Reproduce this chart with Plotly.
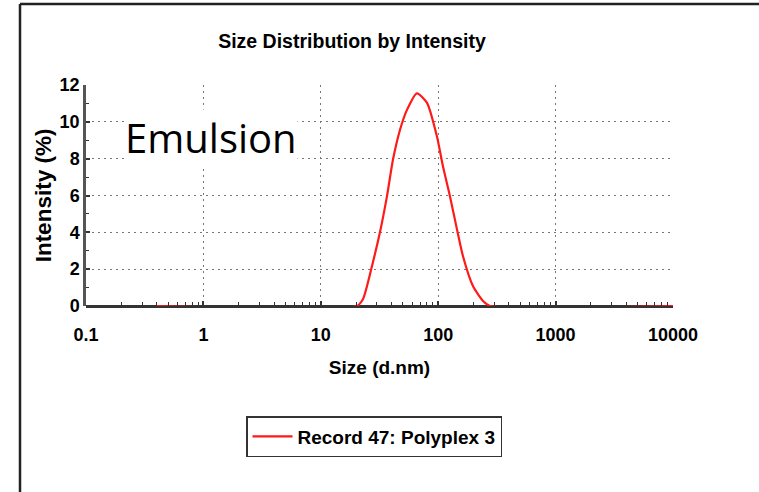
import plotly.graph_objects as go

# ---- data ----
sizes = [0.4, 20.3, 22.9, 27.8, 31.9, 36.6, 41.2, 47.3, 54.2, 65.9, 80.3,
         97.7, 109.9, 126, 144.5, 162.6, 197.7, 241, 276, 10000]
intensity = [0, 0, 0.38, 2.38, 4.0, 5.95, 7.95, 9.57, 10.65, 11.55, 11.03,
             9.19, 7.57, 5.95, 4.16, 2.7, 1.08, 0.27, 0, 0]
x_tickvals = [0.1, 1, 10, 100, 1000, 10000]
x_ticktext = ["0.1", "1", "10", "100", "1000", "10000"]
y_tickvals = [0, 2, 4, 6, 8, 10, 12]
series_name = "Record 47: Polyplex 3"

W, H = 759, 492
L, R, T, B = 86, 86, 85, 186
PW, PH = W - L - R, H - T - B


def px_x(p):
    return (p - L) / PW


def px_y(p):
    return (H - B - p) / PH


SANS = "Liberation Sans, Arial, sans-serif"

fig = go.Figure()
fig.add_trace(go.Scatter(
    x=sizes, y=intensity, mode="lines", name=series_name,
    line=dict(color="#ff1a1a", width=2.2, shape="spline", smoothing=0.6),
    showlegend=True,
))

grid = dict(showgrid=True, gridcolor="#777777", gridwidth=1, griddash="2px,4px")

fig.update_xaxes(
    type="log", range=[-1, 4], tickvals=x_tickvals, ticktext=x_ticktext,
    showline=False, zeroline=False,
    ticks="inside", ticklen=5, tickwidth=1.5, tickcolor="#333333",
    ticklabelstandoff=16,
    minor=dict(ticks="inside", ticklen=4, tickwidth=1.2, tickcolor="#333333",
               showgrid=False, dtick="D1"),
    tickfont=dict(family=SANS, size=18, color="black", weight="bold"),
    title=dict(text="Size (d.nm)", standoff=16,
               font=dict(family=SANS, size=19, color="black", weight="bold")),
    layer="above traces", **grid,
)
fig.update_yaxes(
    range=[0, 12], tickvals=y_tickvals,
    showline=True, linecolor="#555555", linewidth=2.5,
    zeroline=True, zerolinecolor="#333333", zerolinewidth=3,
    ticks="inside", ticklen=4, tickwidth=1.5, tickcolor="#333333",
    ticklabelstandoff=0,
    minor=dict(ticks="inside", ticklen=3, tickwidth=1.2, tickcolor="#333333",
               dtick=1, showgrid=False),
    tickfont=dict(family=SANS, size=18, color="black", weight="bold"),
    title=dict(text="Intensity (%)", standoff=2,
               font=dict(family=SANS, size=22.5, color="black", weight="bold")),
    **grid,
)

fig.add_annotation(
    text="Emulsion", xref="paper", yref="paper",
    x=px_x(211), y=px_y(137), xanchor="center", yanchor="middle",
    showarrow=False, bgcolor="white", borderpad=0,
    font=dict(family="Open Sans, Noto Sans, sans-serif", size=40, color="black"),
)

# outer frame (left and top edges)
frame = dict(color="#222222", width=2.5)
fig.add_shape(type="line", xref="paper", yref="paper",
              x0=px_x(20), x1=px_x(W + 5), y0=px_y(4), y1=px_y(4), line=frame)
fig.add_shape(type="line", xref="paper", yref="paper",
              x0=px_x(20), x1=px_x(20), y0=px_y(4), y1=px_y(H + 5), line=frame)

fig.update_layout(
    width=W, height=H,
    margin=dict(l=L, r=R, t=T, b=B, autoexpand=False),
    paper_bgcolor="white", plot_bgcolor="white",
    title=dict(text="Size Distribution by Intensity", x=352 / W, xref="container",
               xanchor="center", y=1 - 41 / H, yanchor="middle", yref="container",
               font=dict(family=SANS, size=19.5, color="black", weight="bold")),
    legend=dict(x=px_x(246), y=px_y(416), xanchor="left", yanchor="top",
                bordercolor="#333333", borderwidth=1.5, bgcolor="white",
                font=dict(family=SANS, size=19, color="black", weight="bold"),
                itemwidth=40, tracegroupgap=0),
)

fig.write_html("out.html", config={"displayModeBar": False},
               post_script="document.body.style.margin='0px';")
